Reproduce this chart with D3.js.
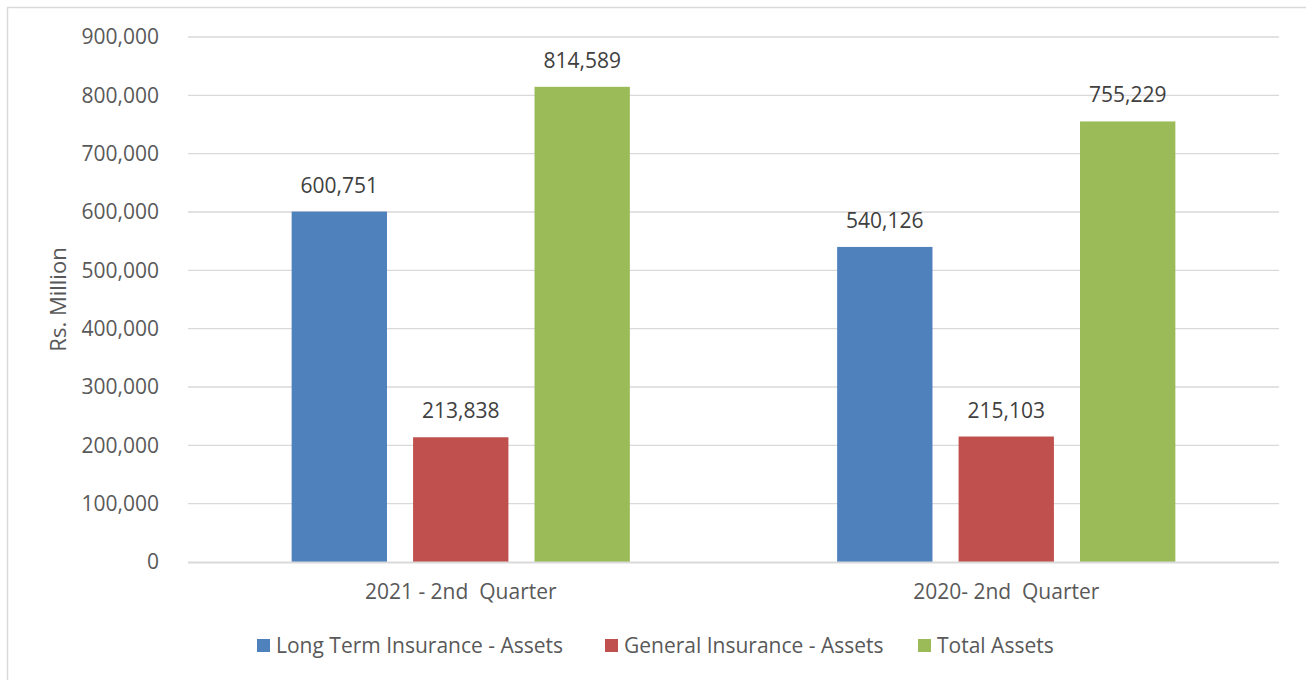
<!DOCTYPE html>
<html>
<head>
<meta charset="utf-8">
<script src="https://cdnjs.cloudflare.com/ajax/libs/d3/7.8.5/d3.min.js"></script>
<style>
  html, body { margin: 0; padding: 0; background: #fff; }
  text { font-family: "Open Sans", "Liberation Sans", sans-serif; }
</style>
</head>
<body>
<div id="chart"></div>
<script>
// Chart data
const categories = ["2021 - 2nd  Quarter", "2020- 2nd  Quarter"];
const seriesNames = ["Long Term Insurance - Assets", "General Insurance - Assets", "Total Assets"];
const seriesColors = ["#4f81bd", "#c0504d", "#9bbb59"];
const longTermValues = [600751, 540126];
const generalValues = [213838, 215103];
const totalValues = [814589, 755229];
const yTicks = [0, 100000, 200000, 300000, 400000, 500000, 600000, 700000, 800000, 900000];

const width = 1306;
const height = 680;
const margin = { top: 37, right: 27, bottom: 118, left: 188 };
const fontSize = "21px";

const svg = d3.select("#chart").append("svg")
    .attr("width", width)
    .attr("height", height)
    .style("display", "block");

// outer chart border (right and bottom edges fall outside the picture)
svg.append("rect")
    .attr("x", 7.5).attr("y", 7.5)
    .attr("width", width + 10).attr("height", height + 10)
    .attr("fill", "#fff")
    .attr("stroke", "#d9d9d9")
    .attr("stroke-width", 1.5);

const x = d3.scaleBand()
    .domain(categories)
    .range([margin.left, width - margin.right]);

const y = d3.scaleLinear()
    .domain([0, 900000])
    .range([height - margin.bottom, margin.top]);

// bars inside each group
const inner = d3.scaleBand()
    .domain(seriesNames)
    .range([x.bandwidth() * 0.19, x.bandwidth() * 0.81])
    .paddingInner(0.215);

const fmt = d3.format(",");

// gridlines
svg.append("g")
    .selectAll("line")
    .data(yTicks.slice(1))
    .enter().append("line")
    .attr("x1", margin.left)
    .attr("x2", width - margin.right)
    .attr("y1", d => y(d))
    .attr("y2", d => y(d))
    .attr("stroke", "#d9d9d9")
    .attr("stroke-width", 1.3);

// y axis labels
const yAxis = svg.append("g")
    .attr("transform", `translate(${margin.left},0)`)
    .call(d3.axisLeft(y).tickValues(yTicks).tickFormat(fmt).tickSize(0).tickPadding(29));
yAxis.select(".domain").remove();
yAxis.selectAll("text")
    .style("font-size", fontSize)
    .attr("fill", "#595959");

// bars
const series = [longTermValues, generalValues, totalValues];
const rows = [];
categories.forEach((c, i) => {
    seriesNames.forEach((s, j) => {
        rows.push({ cat: c, name: s, value: series[j][i], color: seriesColors[j] });
    });
});

svg.append("g")
    .selectAll("rect")
    .data(rows)
    .enter().append("rect")
    .attr("x", d => x(d.cat) + inner(d.name))
    .attr("y", d => y(d.value))
    .attr("width", inner.bandwidth())
    .attr("height", d => y(0) - y(d.value))
    .attr("fill", d => d.color);

// value labels
svg.append("g")
    .selectAll("text")
    .data(rows)
    .enter().append("text")
    .attr("x", d => x(d.cat) + inner(d.name) + inner.bandwidth() / 2)
    .attr("y", d => y(d.value) - 19)
    .attr("text-anchor", "middle")
    .style("font-size", fontSize)
    .attr("fill", "#404040")
    .text(d => fmt(d.value));

// baseline
svg.append("line")
    .attr("x1", margin.left)
    .attr("x2", width - margin.right)
    .attr("y1", y(0) + 0.5)
    .attr("y2", y(0) + 0.5)
    .attr("stroke", "#d9d9d9")
    .attr("stroke-width", 2);

// category labels
svg.append("g")
    .selectAll("text")
    .data(categories)
    .enter().append("text")
    .attr("x", d => x(d) + x.bandwidth() / 2)
    .attr("y", y(0) + 37)
    .attr("text-anchor", "middle")
    .style("font-size", fontSize)
    .attr("fill", "#595959")
    .attr("xml:space", "preserve")
    .style("white-space", "pre")
    .text(d => d);

// y axis title
svg.append("text")
    .attr("transform", `translate(66,${(margin.top + y(0)) / 2}) rotate(-90)`)
    .attr("text-anchor", "middle")
    .style("font-size", "22px")
    .attr("fill", "#595959")
    .text("Rs. Million");

// legend
const legendX = [257, 605, 918];
const legend = svg.append("g")
    .selectAll("g")
    .data(seriesNames)
    .enter().append("g")
    .attr("transform", (d, i) => `translate(${legendX[i]},645)`);

legend.append("rect")
    .attr("x", 0).attr("y", -6)
    .attr("width", 13).attr("height", 13)
    .attr("fill", (d, i) => seriesColors[i]);

legend.append("text")
    .attr("x", 19)
    .attr("y", 8)
    .style("font-size", fontSize)
    .attr("fill", "#595959")
    .text(d => d);
</script>
</body>
</html>
